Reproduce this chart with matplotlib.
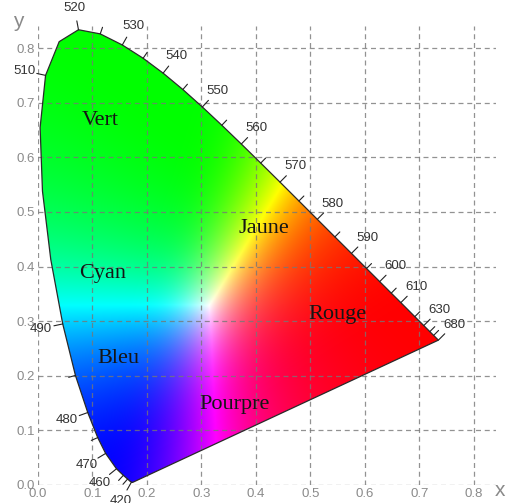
import numpy as np
import matplotlib
matplotlib.use('Agg')
import matplotlib.pyplot as plt
from matplotlib.patches import Polygon

# CIE 1931 spectral locus (wavelength nm, chromaticity x, y)
wl = [380, 390, 400, 410, 420, 430, 440, 450, 460, 470, 475, 480, 485, 490,
      495, 500, 505, 510, 515, 520, 525, 530, 535, 540, 545, 550, 555, 560,
      565, 570, 575, 580, 585, 590, 595, 600, 605, 610, 620, 630, 640, 650, 680]
cx = [0.1741, 0.1738, 0.1733, 0.1726, 0.1714, 0.1689, 0.1644, 0.1566, 0.1440,
      0.1241, 0.1096, 0.0913, 0.0687, 0.0454, 0.0235, 0.0082, 0.0039, 0.0139,
      0.0389, 0.0743, 0.1142, 0.1547, 0.1929, 0.2296, 0.2658, 0.3016, 0.3373,
      0.3731, 0.4087, 0.4441, 0.4788, 0.5125, 0.5448, 0.5752, 0.6029, 0.6270,
      0.6482, 0.6658, 0.6915, 0.7079, 0.7190, 0.7260, 0.7347]
cy = [0.0050, 0.0049, 0.0048, 0.0048, 0.0051, 0.0069, 0.0109, 0.0177, 0.0297,
      0.0578, 0.0868, 0.1327, 0.2007, 0.2950, 0.4127, 0.5384, 0.6548, 0.7502,
      0.8120, 0.8338, 0.8262, 0.8059, 0.7816, 0.7543, 0.7243, 0.6923, 0.6589,
      0.6245, 0.5896, 0.5547, 0.5202, 0.4866, 0.4544, 0.4242, 0.3965, 0.3725,
      0.3514, 0.3340, 0.3083, 0.2920, 0.2809, 0.2740, 0.2653]

labelled = [420, 460, 470, 480, 490, 510, 520, 530, 540, 550, 560, 570, 580,
            590, 600, 610, 630, 680]
unticked = [380, 390, 400, 410, 430, 495, 500, 505, 515]

regions = ['Vert', 'Cyan', 'Bleu', 'Jaune', 'Rouge', 'Pourpre']
region_x = [0.114, 0.119, 0.147, 0.415, 0.550, 0.361]
region_y = [0.668, 0.388, 0.231, 0.469, 0.313, 0.147]

cx = np.array(cx)
cy = np.array(cy)

fig = plt.figure(figsize=(5.10, 5.03), dpi=100)
ax = fig.add_axes([0.0745, 0.0358, 0.8976, 0.9118])
ax.set_xlim(0, 0.84)
ax.set_ylim(0, 0.84)

# colour field: xy -> XYZ -> linear sRGB, normalised, then softened
n = 420
gx, gy = np.meshgrid(np.linspace(0, 0.84, n), np.linspace(0.002, 0.84, n))
X = gx / gy
Z = (1 - gx - gy) / gy
R = 3.2406 * X - 1.5372 - 0.4986 * Z
G = -0.9689 * X + 1.8758 + 0.0415 * Z
B = 0.0557 * X - 0.2040 + 1.0570 * Z
rgb = np.clip(np.dstack([R, G, B]), 0, None)
rgb = rgb / np.maximum(rgb.max(axis=2, keepdims=True), 1e-9)
rgb = np.clip(rgb, 0, 1) ** 1.3

sigma = 16
k = np.exp(-0.5 * (np.arange(-3 * sigma, 3 * sigma + 1) / sigma) ** 2)
k /= k.sum()
pad = 3 * sigma
for c in range(3):
    ch = np.pad(rgb[:, :, c], pad, mode='edge')
    ch = np.apply_along_axis(lambda r: np.convolve(r, k, mode='same'), 0, ch)
    ch = np.apply_along_axis(lambda r: np.convolve(r, k, mode='same'), 1, ch)
    rgb[:, :, c] = ch[pad:-pad, pad:-pad]
rgb = np.clip(rgb / np.maximum(rgb.max(axis=2, keepdims=True), 1e-9), 0, 1)

im = ax.imshow(rgb, extent=(0, 0.84, 0.002, 0.84), origin='lower',
               interpolation='bilinear', zorder=1, aspect='auto')
poly = Polygon(np.column_stack([cx, cy]), closed=True, facecolor='none',
               edgecolor='#2a2a2a', lw=0.9, zorder=3)
ax.add_patch(poly)
im.set_clip_path(poly)

# grid
for v in np.arange(0, 0.81, 0.1):
    ax.axvline(v, color='#777777', lw=0.9, ls=(0, (4, 3)), alpha=0.8, zorder=2)
    ax.axhline(v, color='#777777', lw=0.9, ls=(0, (4, 3)), alpha=0.8, zorder=2)
for s in ax.spines.values():
    s.set_visible(False)
ax.set_xticks(np.arange(0, 0.81, 0.1))
ax.set_yticks(np.arange(0, 0.81, 0.1))
ax.set_xticklabels([f'{v:.1f}' for v in np.arange(0, 0.81, 0.1)])
ax.set_yticklabels([f'{v:.1f}' for v in np.arange(0, 0.81, 0.1)])
ax.tick_params(length=0, labelsize=9.5, labelcolor='#8a8a8a', pad=2,
               labelfontfamily='Liberation Sans')

# wavelength ticks and labels along the locus
dx = np.gradient(cx)
dy = np.gradient(cy)
nx, ny = -dy, dx
norm = np.hypot(nx, ny)
nx, ny = nx / norm, ny / norm
for i, w in enumerate(wl):
    if w in unticked:
        continue
    L = 7 if w not in labelled else 9
    ax.annotate('', xy=(cx[i], cy[i]), xytext=(nx[i] * L * 0.72, ny[i] * L * 0.72),
                textcoords='offset points',
                arrowprops=dict(arrowstyle='-', color='#222222', lw=0.8,
                                shrinkA=0, shrinkB=0),
                annotation_clip=False, zorder=4)
    if w in labelled:
        ax.annotate(str(w), xy=(cx[i], cy[i]),
                    xytext=(nx[i] * 22 * 0.72, ny[i] * 22 * 0.72),
                    textcoords='offset points', ha='center', va='center',
                    fontsize=9.5, color='#333333', family='Liberation Sans',
                    annotation_clip=False, zorder=5)

for name, x, y in zip(regions, region_x, region_y):
    ax.text(x, y, name, ha='center', va='center', fontsize=16,
            family='Liberation Serif', color='#151515', zorder=6)

ax.text(0.848, -0.01, 'x', fontsize=15, color='#8a8a8a', ha='center',
        va='center', family='Liberation Sans', clip_on=False)
ax.text(-0.037, 0.848, 'y', fontsize=15, color='#8a8a8a', ha='center',
        va='center', family='Liberation Sans', clip_on=False)

fig.savefig('out.png', dpi=100)
